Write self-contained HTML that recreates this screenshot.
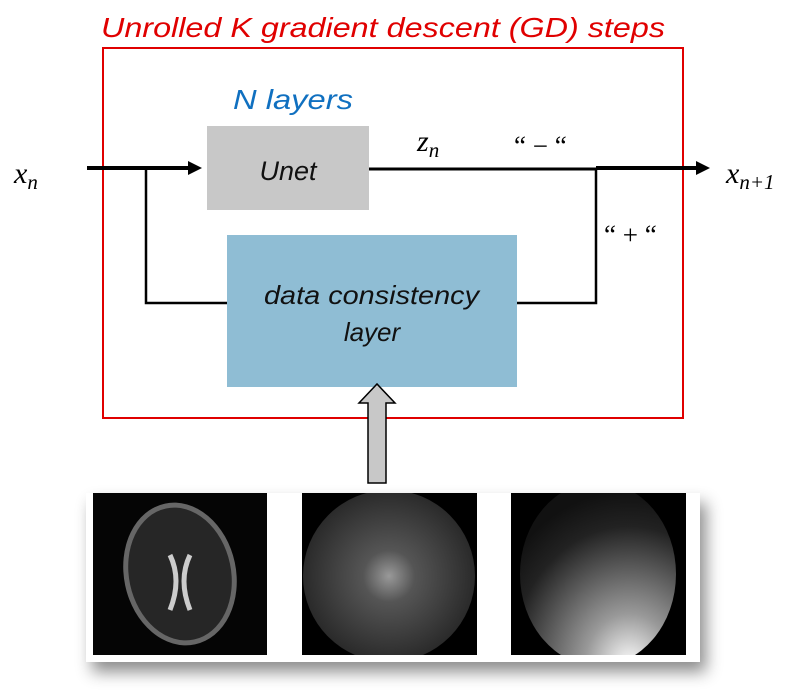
<!DOCTYPE html>
<html><head><meta charset="utf-8"><style>
body{margin:0;background:#fff;width:795px;height:700px;overflow:hidden;position:relative;font-family:"Liberation Sans",sans-serif}
.a{position:absolute}
</style></head><body>
<svg class="a" style="left:0;top:0" width="795" height="700">
<defs>
<radialGradient id="kspace" cx="50%" cy="50%" r="50%"><stop offset="0" stop-color="#999"/><stop offset="0.3" stop-color="#555"/><stop offset="1" stop-color="#2a2a2a"/></radialGradient>
<radialGradient id="sens" cx="70%" cy="100%" r="95%"><stop offset="0" stop-color="#fff"/><stop offset="0.3" stop-color="#999"/><stop offset="0.8" stop-color="#222"/><stop offset="1" stop-color="#111"/></radialGradient>
<clipPath id="c2"><rect x="302" y="493" width="175" height="162"/></clipPath>
<clipPath id="c3"><rect x="511" y="493" width="175" height="162"/></clipPath>
<filter id="sh" x="-10%" y="-20%" width="125%" height="160%"><feDropShadow dx="6" dy="10" stdDeviation="8" flood-color="#000" flood-opacity="0.45"/></filter>
</defs>
<text x="101" y="37" font-size="28" font-style="italic" fill="#e00000" textLength="564" lengthAdjust="spacingAndGlyphs">Unrolled K gradient descent (GD) steps</text>
<rect x="103" y="48" width="580" height="370" fill="none" stroke="#e00000" stroke-width="2"/>
<text x="233" y="109" font-size="28" font-style="italic" fill="#1070c0" textLength="120" lengthAdjust="spacingAndGlyphs">N layers</text>
<rect x="207" y="126" width="162" height="84" fill="#c8c8c8"/>
<text x="288" y="180" font-size="27" font-style="italic" text-anchor="middle" fill="#111">Unet</text>
<rect x="227" y="235" width="290" height="152" fill="#8fbdd4"/>
<text x="264" y="304" font-size="26" font-style="italic" fill="#111" textLength="215" lengthAdjust="spacingAndGlyphs">data consistency</text>
<text x="372" y="341" font-size="26" font-style="italic" text-anchor="middle" fill="#111">layer</text>
<g stroke="#000" fill="none">
<line x1="87" y1="168" x2="192" y2="168" stroke-width="4"/>
<line x1="369" y1="169" x2="596" y2="169" stroke-width="3"/>
<line x1="596" y1="168" x2="700" y2="168" stroke-width="4"/>
<polyline points="146,168 146,303 227,303" stroke-width="2.5"/>
<polyline points="517,303 596,303 596,168" stroke-width="2.5"/>
</g>
<polygon points="188,161 202,168 188,175" fill="#000"/>
<polygon points="696,161 710,168 696,175" fill="#000"/>
<text x="14" y="183" font-size="30" font-style="italic" font-family="Liberation Serif,serif">x<tspan font-size="21" dy="6">n</tspan></text>
<text x="726" y="183" font-size="30" font-style="italic" font-family="Liberation Serif,serif">x<tspan font-size="21" dy="6">n+1</tspan></text>
<text x="417" y="151" font-size="30" font-style="italic" font-family="Liberation Serif,serif">z<tspan font-size="21" dy="6">n</tspan></text>
<text x="514" y="155" font-size="27" font-family="Liberation Serif,serif">“ − “</text>
<text x="604" y="244" font-size="27" font-family="Liberation Serif,serif">“ + “</text>
<polygon points="368,483 386,483 386,403 395,403 377,384 359,403 368,403" fill="#c8c8c8" stroke="#000" stroke-width="1.5"/>
<rect x="86" y="493" width="614" height="169" fill="#fff" filter="url(#sh)"/>
<rect x="93" y="493" width="174" height="162" fill="#050505"/>
<ellipse cx="180" cy="574" rx="56" ry="72" fill="#666" transform="rotate(-12 180 574)"/>
<ellipse cx="180" cy="574" rx="51" ry="67" fill="#262626" transform="rotate(-12 180 574)"/>
<path d="M170,555 Q182,580 170,610 M190,555 Q178,580 190,610" stroke="#ccc" stroke-width="5" fill="none"/>
<rect x="302" y="493" width="175" height="162" fill="#000"/>
<circle cx="389" cy="576" r="86" fill="url(#kspace)" clip-path="url(#c2)"/>
<rect x="511" y="493" width="175" height="162" fill="#000"/>
<ellipse cx="598" cy="574" rx="78" ry="92" fill="url(#sens)" clip-path="url(#c3)"/>
</svg>
</body></html>
